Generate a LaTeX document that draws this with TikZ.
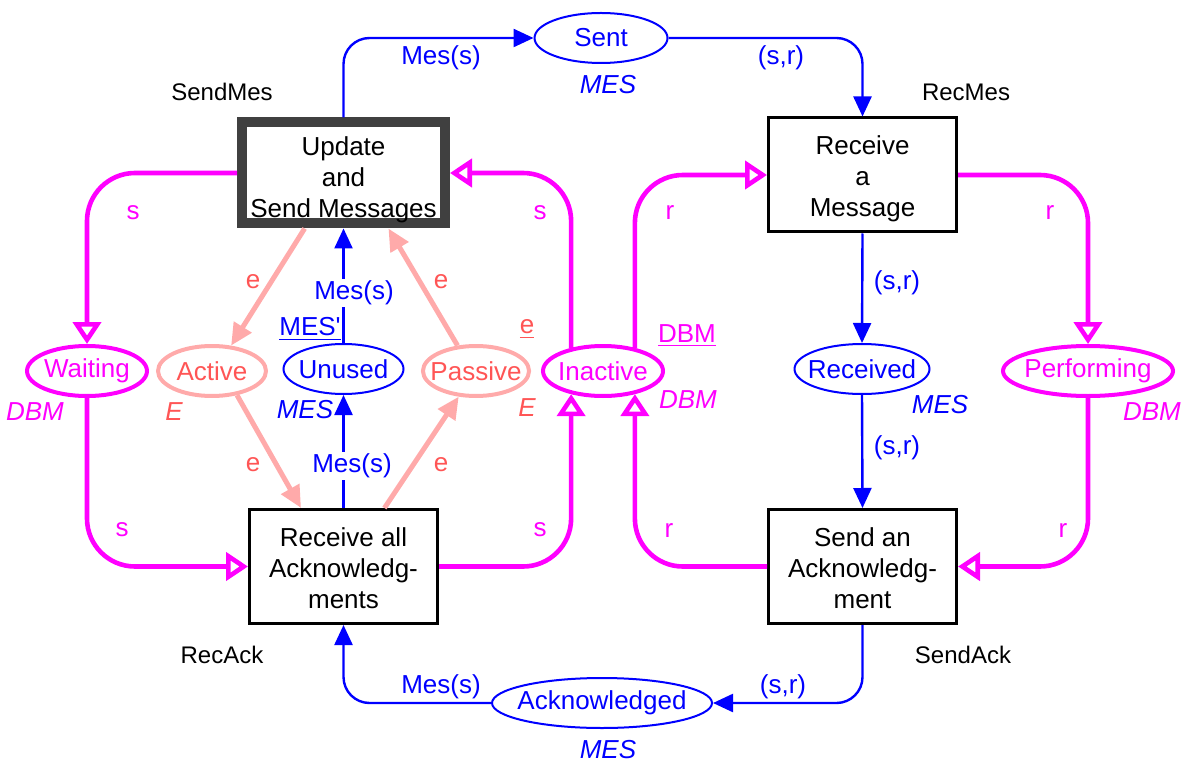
\documentclass[tikz,border=0pt]{standalone}
\usepackage{fontspec}
\setmainfont{Liberation Sans}
\usetikzlibrary{arrows.meta,shapes.geometric}
\definecolor{mesblue}{RGB}{0,0,255}
\definecolor{dbmmag}{RGB}{255,0,255}
\definecolor{eline}{RGB}{255,170,170}
\definecolor{etext}{RGB}{255,85,85}
\definecolor{boxgray}{RGB}{64,64,64}

\begin{document}
\begin{tikzpicture}[x=0.5pt,y=-0.5pt,
    font=\fontsize{13}{15.5}\selectfont,
    transition/.style={draw,rectangle,align=center,line width=1.5pt,
      minimum width=94pt,minimum height=57pt,inner sep=0pt,
      text height=44.5pt,text depth=3pt},
    place/.style={ellipse,draw,inner xsep=-4pt,inner ysep=0pt,minimum height=25pt},
    blueplace/.style={place,draw=mesblue,text=mesblue,line width=1pt},
    magplace/.style={place,draw=dbmmag,text=dbmmag,line width=2pt},
    pinkplace/.style={place,draw=eline,text=etext,line width=2pt},
    tname/.style={font=\fontsize{12}{14}\selectfont},
    bluearc/.style={mesblue,line width=1.2pt,rounded corners=13pt,
      -{Triangle[length=10pt,width=9pt]}},
    magarc/.style={dbmmag,line width=2.3pt,rounded corners=24pt,
      -{Triangle[open,length=11pt,width=14pt]}},
    pinkarc/.style={eline,line width=2.5pt,-{Triangle[length=11pt,width=10pt]}}]
    \useasboundingbox (0,0) rectangle (1186,764);

    % transitions
    \node[transition,draw=boxgray,line width=5pt,minimum width=101.5pt,minimum height=50.5pt,
      text height=47.5pt] (sendmes) at (343.5,173) {Update\\and\\Send Messages};
    \node[transition] (recmes) at (862.5,175) {Receive\\a\\Message};
    \node[transition] (recack) at (343.5,566.5) {Receive all\\Acknowledg-\\ments};
    \node[transition] (sendack) at (862.5,566.5) {Send an\\Acknowledg-\\ment};
    \node[tname] (nsendmes) at (222,92) {SendMes};
    \node[tname] (nrecmes) at (966,92) {RecMes};
    \node[tname] (nrecack) at (222,655) {RecAck};
    \node[tname] (nsendack) at (963,655) {SendAck};

    % places
    \node[blueplace,minimum width=66.5pt] (sent) at (601,38) {Sent};
    \node[blueplace,minimum width=67.5pt] (received) at (862,369) {Received};
    \node[blueplace,minimum width=110pt] (acknowledged) at (602,703) {Acknowledged};
    \node[blueplace,minimum width=60pt] (unused) at (343.5,369) {Unused};
    \node[magplace,minimum width=60pt] (waiting) at (87,371) {Waiting};
    \node[pinkplace,minimum width=54pt] (active) at (212,371) {Active};
    \node[pinkplace,minimum width=53pt] (passive) at (476,371) {Passive};
    \node[magplace,minimum width=60pt] (inactive) at (603,371) {Inactive};
    \node[magplace,minimum width=85pt] (performing) at (1088,371) {Performing};

    % colour sets and initial markings
    \node[mesblue] (csent) at (608,85) {\itshape MES};
    \node[mesblue] (creceived) at (940,405) {\itshape MES};
    \node[mesblue] (cack) at (608,750) {\itshape MES};
    \node[mesblue] (munused) at (310,329) {\underline{MES\textquotesingle}};
    \node[mesblue] (cunused) at (305,410) {\itshape MES};
    \node[dbmmag] (cwaiting) at (35,412) {\itshape DBM};
    \node[etext] (cactive) at (174,412) {\itshape E};
    \node[etext] (mpassive) at (527,329) {\underline{e}};
    \node[etext] (cpassive) at (527,408) {\itshape E};
    \node[dbmmag] (minactive) at (687,336) {\underline{DBM}};
    \node[dbmmag] (cinactive) at (688,400) {\itshape DBM};
    \node[dbmmag] (cperforming) at (1152,412) {\itshape DBM};

    % message arcs
    \draw[bluearc] (sendmes.north) |- (sent.west);
    \draw[bluearc] (sent.east) -| (recmes.north);
    \draw[bluearc] (recmes.south) -- (received.north);
    \draw[bluearc] (received.south) -- (sendack.north);
    \draw[bluearc] (sendack.south) |- (acknowledged.east);
    \draw[bluearc] (acknowledged.west) -| (recack.south);
    \draw[bluearc] (recack.north) -- (unused.south);
    \draw[bluearc] (unused.north) -- (sendmes.south);

    % site arcs
    \draw[magarc] (sendmes.west) -| (waiting.north);
    \draw[magarc] (waiting.south) |- (recack.west);
    \draw[magarc] (recack.east) -| (inactive.-144);
    \draw[magarc] (inactive.144) |- (sendmes.east);
    \draw[magarc] (inactive.36) |- (recmes.west);
    \draw[magarc] (sendack.west) -| (inactive.-36);
    \draw[magarc] (recmes.east) -| (performing.north);
    \draw[magarc] (performing.south) |- (sendack.east);

    % e arcs
    \draw[pinkarc] (sendmes.-125) -- (active.53);
    \draw[pinkarc] (active.-44) -- (recack.126);
    \draw[pinkarc] (recack.55) -- (passive.-124);
    \draw[pinkarc] (passive.126) -- (sendmes.-51);

    % arc inscriptions
    \node[mesblue] (ames1) at (441,58) {Mes(s)};
    \node[mesblue] (asr1) at (781,58) {(s,r)};
    \node[mesblue] (asr2) at (897,283) {(s,r)};
    \node[mesblue] (asr3) at (897,448) {(s,r)};
    \node[mesblue] (asr4) at (783,687) {(s,r)};
    \node[mesblue] (ames2) at (441,687) {Mes(s)};
    \node[mesblue,fill=white,inner sep=1pt] (ames3) at (354,293) {Mes(s)};
    \node[mesblue,fill=white,inner sep=1pt] (ames4) at (352,466) {Mes(s)};
    \node[dbmmag] (as1) at (133,213) {s};
    \node[dbmmag] (as2) at (122,530) {s};
    \node[dbmmag] (as3) at (540,530) {s};
    \node[dbmmag] (as4) at (540,213) {s};
    \node[dbmmag] (ar1) at (670,213) {r};
    \node[dbmmag] (ar2) at (669,530) {r};
    \node[dbmmag] (ar3) at (1050,213) {r};
    \node[dbmmag] (ar4) at (1063,530) {r};
    \node[etext] (ae1) at (253,282) {e};
    \node[etext] (ae2) at (253,465) {e};
    \node[etext] (ae3) at (441,465) {e};
    \node[etext] (ae4) at (441,282) {e};
\end{tikzpicture}
\end{document}
